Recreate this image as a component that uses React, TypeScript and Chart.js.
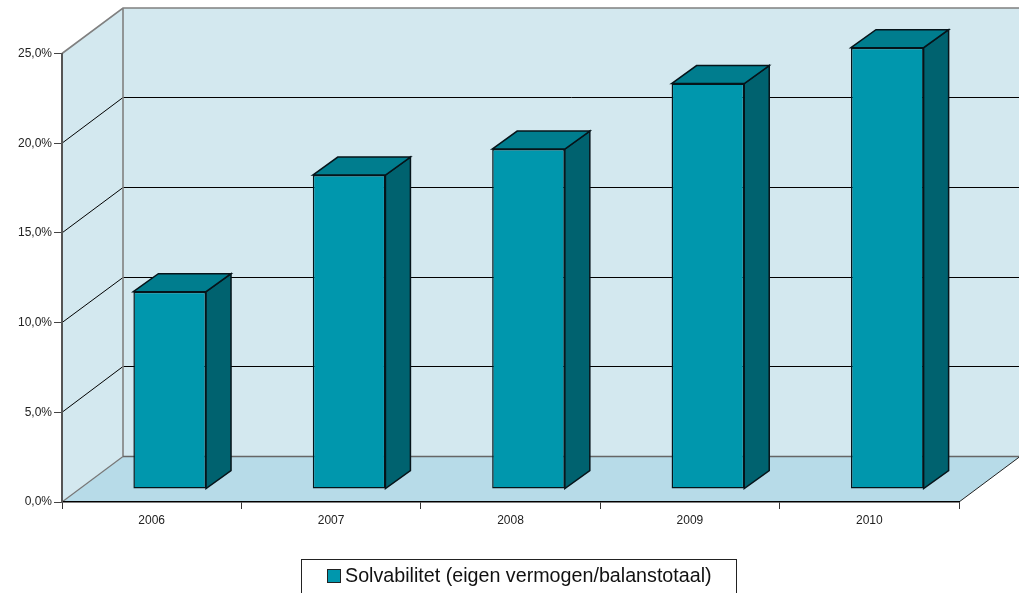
import React, { useEffect, useRef } from "react";
import { Chart, registerables } from "chart.js";

Chart.register(...registerables);

const categories = ["2006", "2007", "2008", "2009", "2010"];
const solvency = [11.0, 17.5, 18.95, 22.6, 24.6];
const seriesLabel = "Solvabilitet (eigen vermogen/balanstotaal)";

const WALL_DX = 61;
const WALL_DY = -45.5;
const BAR_DX = 18;
const BAR_DY = -13;
const SIDE_DX = 25;
const SIDE_DY = -18;
const FONT = '"Liberation Sans", Arial, sans-serif';

const scene = {
  id: "scene",
  beforeDraw(chart: any) {
    const { ctx, scales } = chart;
    const y = scales.y;
    const x = scales.x;
    const l = x.left, r = x.right;
    const t = y.getPixelForValue(25), b = y.getPixelForValue(0);
    ctx.save();
    // back wall
    ctx.fillStyle = "#D3E8EF";
    ctx.fillRect(l + WALL_DX, t + WALL_DY, r - l, b - t);
    // side wall
    ctx.beginPath();
    ctx.moveTo(l, t);
    ctx.lineTo(l + WALL_DX, t + WALL_DY);
    ctx.lineTo(l + WALL_DX, b + WALL_DY);
    ctx.lineTo(l, b);
    ctx.closePath();
    ctx.fill();
    // floor
    ctx.fillStyle = "#B7DBE8";
    ctx.beginPath();
    ctx.moveTo(l, b);
    ctx.lineTo(l + WALL_DX, b + WALL_DY);
    ctx.lineTo(r + WALL_DX, b + WALL_DY);
    ctx.lineTo(r, b);
    ctx.closePath();
    ctx.fill();
    // gridlines
    ctx.strokeStyle = "#000";
    ctx.lineWidth = 1;
    for (const tick of y.ticks) {
      if (tick.value === 0 || tick.value === 25) continue;
      const raw = y.getPixelForValue(tick.value);
      const by = Math.floor(raw + WALL_DY) + 0.5;
      ctx.beginPath();
      ctx.moveTo(l, raw);
      ctx.lineTo(l + WALL_DX, by);
      ctx.lineTo(r + WALL_DX, by);
      ctx.stroke();
    }
    // wall frame
    ctx.strokeStyle = "#808080";
    ctx.lineWidth = 1.6;
    ctx.beginPath();
    ctx.moveTo(l, t);
    ctx.lineTo(l + WALL_DX, t + WALL_DY);
    ctx.lineTo(r + WALL_DX, t + WALL_DY);
    ctx.moveTo(l + WALL_DX, t + WALL_DY);
    ctx.lineTo(l + WALL_DX, b + WALL_DY);
    ctx.stroke();
    ctx.strokeStyle = "#666";
    ctx.beginPath();
    ctx.moveTo(l + WALL_DX, b + WALL_DY);
    ctx.lineTo(r + WALL_DX, b + WALL_DY);
    ctx.stroke();
    ctx.lineWidth = 1.2;
    ctx.strokeStyle = "#777";
    ctx.beginPath();
    ctx.moveTo(l, b);
    ctx.lineTo(l + WALL_DX, b + WALL_DY);
    ctx.stroke();
    ctx.strokeStyle = "#222";
    ctx.lineWidth = 1;
    ctx.beginPath();
    ctx.moveTo(r, b);
    ctx.lineTo(r + WALL_DX, b + WALL_DY);
    ctx.stroke();
    ctx.restore();
  },
  beforeDatasetsDraw(chart: any) {
    const { ctx } = chart;
    const meta = chart.getDatasetMeta(0);
    ctx.save();
    ctx.translate(BAR_DX, BAR_DY);
    ctx.lineWidth = 1.5;
    ctx.strokeStyle = "#06141A";
    ctx.lineJoin = "miter";
    for (const bar of meta.data) {
      const x0 = bar.x - bar.width / 2;
      const x1 = bar.x + bar.width / 2;
      const top = bar.y;
      const base = bar.base;
      ctx.fillStyle = "#00626F";
      ctx.beginPath();
      ctx.moveTo(x1, top);
      ctx.lineTo(x1 + SIDE_DX, top + SIDE_DY);
      ctx.lineTo(x1 + SIDE_DX, base + SIDE_DY);
      ctx.lineTo(x1, base);
      ctx.closePath();
      ctx.fill();
      ctx.stroke();
      ctx.fillStyle = "#007D8E";
      ctx.beginPath();
      ctx.moveTo(x0, top);
      ctx.lineTo(x0 + SIDE_DX, top + SIDE_DY);
      ctx.lineTo(x1 + SIDE_DX, top + SIDE_DY);
      ctx.lineTo(x1, top);
      ctx.closePath();
      ctx.fill();
      ctx.stroke();
    }
    // the library draws the front faces inside this offset
  },
  afterDatasetsDraw(chart: any) {
    chart.ctx.restore();
  },
  afterDraw(chart: any) {
    const { ctx } = chart;
    const ds = chart.data.datasets[0];
    ctx.save();
    ctx.fillStyle = "#fff";
    ctx.fillRect(301.5, 559.5, 435, 40);
    ctx.strokeStyle = "#222";
    ctx.lineWidth = 1;
    ctx.strokeRect(301.5, 559.5, 435, 40);
    ctx.fillStyle = ds.backgroundColor;
    ctx.fillRect(327.5, 569.5, 13, 13);
    ctx.strokeStyle = "#222";
    ctx.strokeRect(327.5, 569.5, 13, 13);
    ctx.fillStyle = "#111";
    ctx.font = `19.7px ${FONT}`;
    ctx.textBaseline = "middle";
    ctx.textAlign = "left";
    ctx.fillText(ds.label, 345, 577);
    ctx.restore();
  },
};

export default function App() {
  const ref = useRef<HTMLCanvasElement>(null);
  useEffect(() => {
    const chart = new Chart(ref.current!, {
      type: "bar",
      data: {
        labels: categories,
        datasets: [
          {
            label: seriesLabel,
            data: solvency,
            backgroundColor: "#0097AD",
            borderColor: "#06141A",
            borderWidth: 1.5,
            borderSkipped: false,
            barPercentage: 0.405,
            categoryPercentage: 1,
            clip: false,
          } as any,
        ],
      },
      options: {
        responsive: false,
        animation: false,
        devicePixelRatio: 1,
        layout: { padding: { top: 53.5, right: 60, left: 0, bottom: 0 } },
        plugins: { legend: { display: false }, tooltip: { enabled: false } },
        scales: {
          x: {
            afterFit: (s: any) => { s.height = 593 - 502; },
            grid: { drawOnChartArea: false, drawTicks: true, tickLength: 7, color: "#333", offset: true },
            border: { color: "#000", width: 1.5 },
            ticks: { color: "#222", font: { family: FONT, size: 12 }, padding: 4, maxRotation: 0 },
          },
          y: {
            min: 0,
            max: 25,
            afterFit: (s: any) => { s.width = 62; },
            grid: { drawOnChartArea: false, drawTicks: true, tickLength: 8, color: "#444" },
            border: { color: "#555", width: 2 },
            ticks: {
              stepSize: 5,
              color: "#222",
              font: { family: FONT, size: 12 },
              padding: 2,
              callback: (v: any) => `${Number(v).toFixed(1).replace(".", ",")}%`,
            },
          },
        },
      },
      plugins: [scene],
    } as any);
    return () => chart.destroy();
  }, []);
  return (
    <canvas
      ref={ref}
      width={1019}
      height={593}
      style={{ position: "absolute", left: 0, top: 0, display: "block" }}
    />
  );
}
